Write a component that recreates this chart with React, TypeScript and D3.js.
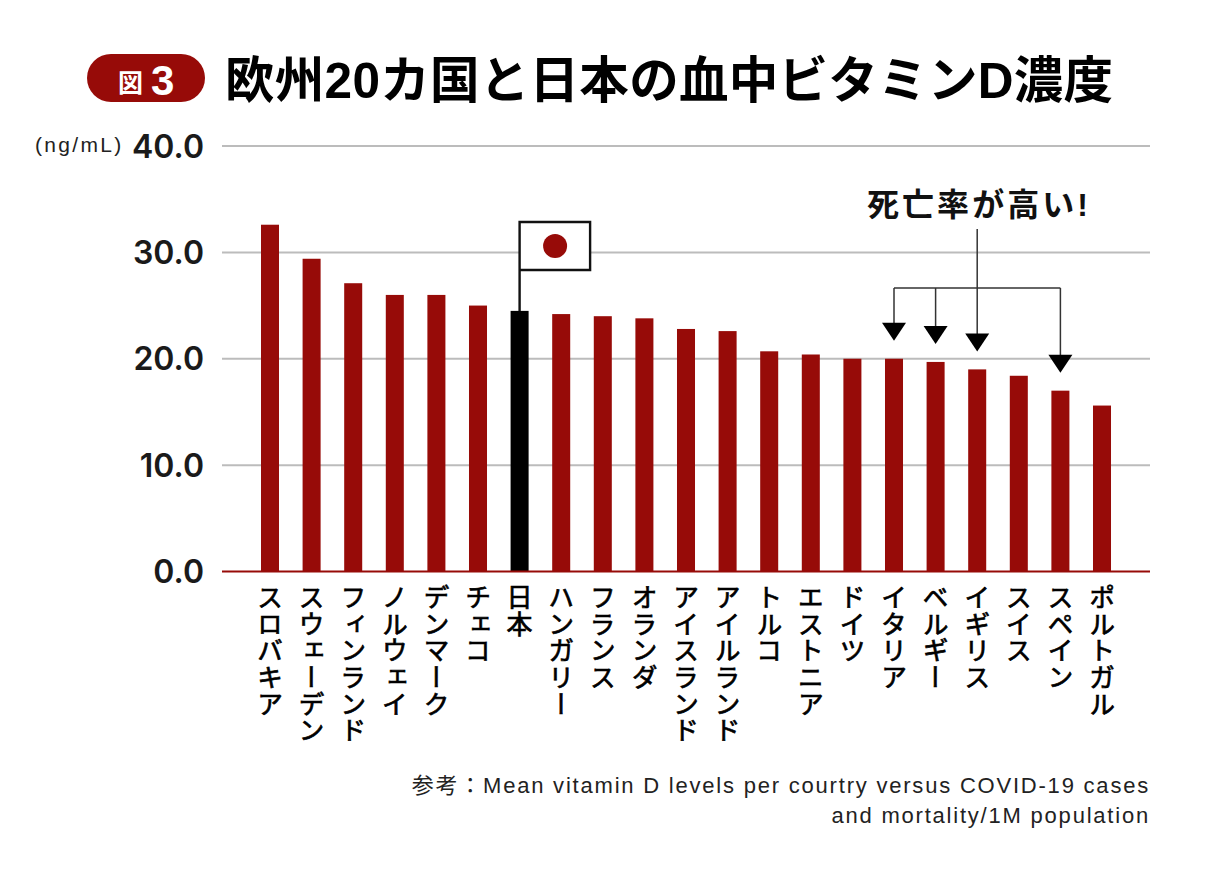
import React, { useEffect, useRef } from "react";
import * as d3 from "d3";

const countries = [
  "スロバキア", "スウェーデン", "フィンランド", "ノルウェイ", "デンマーク", "チェコ", "日本",
  "ハンガリー", "フランス", "オランダ", "アイスランド", "アイルランド", "トルコ", "エストニア",
  "ドイツ", "イタリア", "ベルギー", "イギリス", "スイス", "スペイン", "ポルトガル",
];
const levels = [32.6, 29.4, 27.1, 26, 26, 25, 24.5, 24.2, 24, 23.8, 22.8, 22.6, 20.7, 20.4, 20, 20, 19.7, 19, 18.4, 17, 15.6];
const yTicks = [0, 10, 20, 30, 40];
const highMortality = ["イタリア", "ベルギー", "イギリス", "スペイン"];

const RED = "#970b08";
const SANS = '"Liberation Sans", "Noto Sans CJK JP", sans-serif';
const JP = '"Noto Sans CJK JP", sans-serif';

export default function App() {
  const ref = useRef<SVGSVGElement>(null);

  useEffect(() => {
    const svg = d3.select(ref.current);
    svg.selectAll("*").remove();

    const x = d3.scaleBand().domain(countries).range([249.2, 1122.8]).paddingInner(0.567).paddingOuter(0.2835);
    const y = d3.scaleLinear().domain([0, 40]).range([571.5, 146]);
    const cx = (c: string) => Number(x(c)) + x.bandwidth() / 2;

    // タイトル
    svg.append("rect").attr("x", 87).attr("y", 54).attr("width", 118).attr("height", 48).attr("rx", 24).attr("fill", RED);
    svg.append("text").attr("x", 118).attr("y", 92).attr("font-family", JP).attr("font-weight", 700)
      .attr("font-size", 25).attr("fill", "#fff").text("図");
    svg.append("text").attr("x", 151).attr("y", 95).attr("font-family", SANS).attr("font-weight", 700)
      .attr("font-size", 42).attr("fill", "#fff").text("3");
    svg.append("text").attr("x", 225).attr("y", 98).attr("font-family", SANS).attr("font-weight", 700)
      .attr("font-size", 49.5).attr("textLength", 888).attr("fill", "#000")
      .text("欧州20カ国と日本の血中ビタミンD濃度");

    // グリッド
    svg.append("g").selectAll("line").data(yTicks.filter((d) => d > 0)).enter().append("line")
      .attr("x1", 222).attr("x2", 1150).attr("y1", (d) => y(d)).attr("y2", (d) => y(d))
      .attr("stroke", "#bcbcbc").attr("stroke-width", 2);

    // y軸ラベル
    svg.append("g").selectAll("text").data(yTicks).enter().append("text")
      .attr("x", 204).attr("y", (d) => y(d) + 11.5).attr("text-anchor", "end")
      .attr("font-family", "Inter, sans-serif").attr("font-weight", 600).attr("font-size", 32).attr("fill", "#1a1a1a")
      .text((d) => d3.format(".1f")(d));
    svg.append("text").attr("x", 35).attr("y", 152).attr("font-family", SANS).attr("font-size", 21)
      .attr("letter-spacing", 2.3).attr("fill", "#222").text("(ng/mL)");

    // 棒
    svg.append("g").selectAll("rect").data(countries).enter().append("rect")
      .attr("x", (d) => Number(x(d))).attr("width", x.bandwidth())
      .attr("y", (_, i) => y(levels[i])).attr("height", (_, i) => y(0) - y(levels[i]))
      .attr("fill", (d) => (d === "日本" ? "#000" : RED));
    svg.append("line").attr("x1", 222).attr("x2", 1150).attr("y1", y(0)).attr("y2", y(0))
      .attr("stroke", RED).attr("stroke-width", 2);

    // 国名
    svg.append("g").selectAll("text").data(countries).enter().append("text")
      .attr("transform", (d) => `translate(${cx(d)},584)`)
      .attr("font-family", JP).attr("font-weight", 400).attr("font-size", 26).attr("letter-spacing", 0.7)
      .attr("fill", "#000").attr("stroke", "#000").attr("stroke-width", 0.7)
      .style("writing-mode", "vertical-rl").text((d) => d);

    // 日本の旗
    const japan = cx("日本");
    svg.append("path")
      .attr("d", `M${japan},${y(levels[countries.indexOf("日本")])}V222h70.5v48H${japan}`)
      .attr("fill", "#fff").attr("stroke", "#111").attr("stroke-width", 2.4);
    svg.append("circle").attr("cx", japan + 35.5).attr("cy", 246).attr("r", 12).attr("fill", RED);

    // 死亡率が高い
    svg.append("text").attr("x", 867).attr("y", 216).attr("font-family", SANS).attr("font-weight", 700)
      .attr("font-size", 32).attr("textLength", 221).attr("fill", "#111").text("死亡率が高い!");
    const bracketY = 288;
    const tipY = (c: string) => y(levels[countries.indexOf(c)]) - 18;
    svg.append("line").attr("x1", cx("イタリア")).attr("x2", cx("スペイン")).attr("y1", bracketY).attr("y2", bracketY)
      .attr("stroke", "#333").attr("stroke-width", 1.5);
    highMortality.forEach((c) => {
      svg.append("line").attr("x1", cx(c)).attr("x2", cx(c))
        .attr("y1", c === "イギリス" ? 229 : bracketY).attr("y2", tipY(c) - 10)
        .attr("stroke", "#333").attr("stroke-width", 1.5);
      svg.append("path")
        .attr("d", `M${cx(c) - 12},${tipY(c) - 18}h24L${cx(c)},${tipY(c)}Z`)
        .attr("fill", "#000");
    });

    // 出典
    const notes = ["参考：Mean vitamin D levels per courtry versus COVID-19 cases", "and mortality/1M population"];
    svg.append("g").selectAll("text").data(notes).enter().append("text")
      .attr("x", 1150).attr("y", (_, i) => 793 + i * 30).attr("text-anchor", "end")
      .attr("font-family", SANS).attr("font-size", 22).attr("letter-spacing", 1.79).attr("fill", "#222")
      .text((d) => d);
  }, []);

  return (
    <svg ref={ref} width={1222} height={870} style={{ position: "absolute", left: 0, top: 0, background: "#fff" }} />
  );
}
